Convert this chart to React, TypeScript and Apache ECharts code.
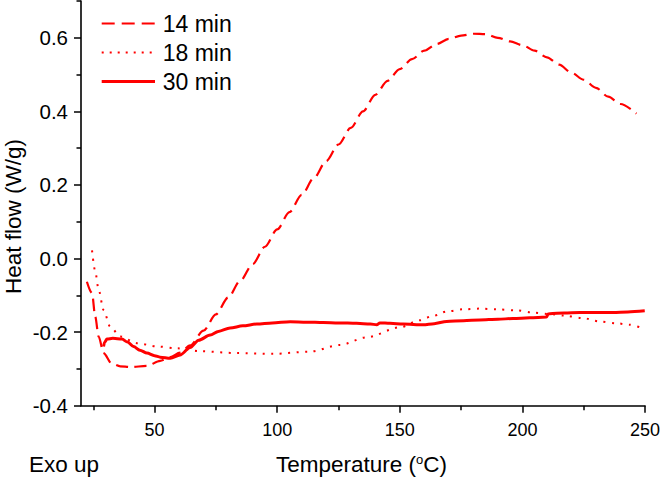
import React, { useEffect, useRef } from 'react';
import * as echarts from 'echarts';

// DSC heat-flow traces for three cure times
const seriesNames = ['14 min', '18 min', '30 min'];

const temp14 = [22.4, 24.5, 25.8, 27.2, 29.2, 32.6, 36, 40.1, 46.9, 52.3, 56.4, 60.4, 64.5, 70, 75, 80, 85, 90, 95, 100, 105, 110, 115, 120, 125, 130, 135, 140, 145, 150, 155, 160, 165, 170, 175, 180, 185, 190, 195, 200, 205, 210, 215, 220, 225, 230, 235, 240, 246.5];
const flow14 = [-0.063, -0.094, -0.158, -0.212, -0.257, -0.286, -0.293, -0.295, -0.292, -0.278, -0.268, -0.256, -0.236, -0.196, -0.152, -0.106, -0.06, -0.015, 0.032, 0.079, 0.126, 0.173, 0.219, 0.265, 0.31, 0.355, 0.4, 0.445, 0.483, 0.515, 0.542, 0.565, 0.583, 0.597, 0.606, 0.611, 0.61, 0.6, 0.59, 0.58, 0.565, 0.547, 0.527, 0.505, 0.486, 0.464, 0.44, 0.42, 0.394];

const temp18 = [24.5, 25.8, 27.2, 29.2, 31.9, 36, 42.8, 51, 59.1, 68.6, 83.5, 98.5, 113.4, 125.6, 136.5, 150.1, 158, 163.6, 169.1, 175.8, 182.6, 189.5, 197.6, 204.4, 211.2, 217, 224.7, 231.5, 238.3, 243.8, 247.9];
const flow18 = [0.022, -0.035, -0.085, -0.14, -0.185, -0.212, -0.23, -0.239, -0.244, -0.252, -0.257, -0.259, -0.253, -0.235, -0.214, -0.187, -0.168, -0.156, -0.144, -0.138, -0.136, -0.138, -0.141, -0.147, -0.151, -0.155, -0.162, -0.171, -0.176, -0.18, -0.187];

const temp30 = [29.2, 29.6, 30.6, 33, 36.7, 39, 41.4, 44, 46.9, 50, 52.3, 56.4, 60.4, 64.5, 68, 72.7, 76, 80.8, 86, 91.7, 98, 105.3, 112, 118.8, 125, 132.4, 138, 140.6, 141.9, 146, 151.4, 159.6, 164, 169.1, 176, 182.6, 190, 196.2, 203, 209.8, 210.5, 211.2, 217, 223.4, 230, 237, 243, 249.9];
const flow30 = [-0.239, -0.228, -0.219, -0.217, -0.219, -0.227, -0.239, -0.249, -0.257, -0.264, -0.268, -0.271, -0.262, -0.242, -0.222, -0.208, -0.198, -0.189, -0.183, -0.178, -0.175, -0.172, -0.173, -0.174, -0.175, -0.176, -0.178, -0.18, -0.175, -0.176, -0.178, -0.18, -0.177, -0.171, -0.169, -0.167, -0.165, -0.163, -0.161, -0.159, -0.151, -0.15, -0.148, -0.147, -0.147, -0.147, -0.145, -0.142];

const xMajorTicks = [50, 100, 150, 200, 250];
const xMinorTicks = [25, 75, 125, 175, 225];
const yMajorTicks = [-0.4, -0.2, 0, 0.2, 0.4, 0.6];
const yMinorTicks = [-0.3, -0.1, 0.1, 0.3, 0.5, 0.7];

const FONT = "'Liberation Sans', Arial, sans-serif";
const RED = '#ff0000';

const lineStyles = [
  { width: 2.2, type: [12, 6.5] as number[] },
  { width: 2, type: [2, 6.5] as number[] },
  { width: 3, type: 'solid' as const },
];

const pair = (xs: number[], ys: number[]) => xs.map((x, i) => [x, ys[i]]);

export default function App() {
  const ref = useRef<HTMLDivElement>(null);

  useEffect(() => {
    if (!ref.current) return;
    const chart = echarts.init(ref.current, undefined, { renderer: 'svg' });

    const tickStyle = { color: '#000', width: 1.5 };

    const legendItems: any[] = [];
    seriesNames.forEach((name, i) => {
      const y = 23.5 + i * 29;
      legendItems.push({
        type: 'line',
        shape: { x1: 101.7, y1: y, x2: 155, y2: y },
        style: {
          stroke: RED,
          lineWidth: i === 2 ? 3 : lineStyles[i].width,
          lineDash: i === 0 ? [13, 7] : i === 1 ? [2, 6] : null,
        },
      });
      legendItems.push({
        type: 'text',
        x: 162.7,
        y: y + 0.5,
        style: {
          text: name,
          font: `23px ${FONT}`,
          fill: '#000',
          textAlign: 'left',
          textVerticalAlign: 'middle',
        },
      });
    });

    chart.setOption({
      animation: false,
      grid: {
        left: 81,
        right: 16,
        top: 1,
        bottom: 75.3,
        containLabel: false,
        outerBoundsMode: 'none',
      },
      xAxis: [
        {
          type: 'value',
          min: 20,
          max: 250,
          splitLine: { show: false },
          axisLine: { onZero: false, lineStyle: { color: '#000', width: 1.6 } },
          axisTick: { customValues: xMajorTicks, length: 7, lineStyle: tickStyle },
          axisLabel: {
            customValues: xMajorTicks,
            margin: 15,
            color: '#000',
            fontSize: 18,
            fontFamily: FONT,
          },
        },
        {
          type: 'value',
          min: 20,
          max: 250,
          position: 'bottom',
          splitLine: { show: false },
          axisLine: { show: false, onZero: false },
          axisTick: { customValues: xMinorTicks, length: 4.5, lineStyle: tickStyle },
          axisLabel: { show: false },
        },
      ],
      yAxis: [
        {
          type: 'value',
          min: -0.4,
          max: 0.7,
          splitLine: { show: false },
          axisLine: { show: true, onZero: false, lineStyle: { color: '#000', width: 1.6 } },
          axisTick: { show: true, customValues: yMajorTicks, length: 7, lineStyle: tickStyle },
          axisLabel: {
            customValues: yMajorTicks,
            margin: 13,
            color: '#000',
            fontSize: 20.5,
            fontFamily: FONT,
            formatter: (v: number) => v.toFixed(1),
          },
        },
        {
          type: 'value',
          min: -0.4,
          max: 0.7,
          position: 'left',
          splitLine: { show: false },
          axisLine: { show: false, onZero: false },
          axisTick: { show: true, customValues: yMinorTicks, length: 4.5, lineStyle: tickStyle },
          axisLabel: { show: false },
        },
      ],
      series: [
        [temp14, flow14],
        [temp18, flow18],
        [temp30, flow30],
      ].map(([xs, ys], i) => ({
        name: seriesNames[i],
        type: 'line',
        xAxisIndex: 0,
        yAxisIndex: 0,
        data: pair(xs, ys),
        showSymbol: false,
        symbol: 'none',
        smooth: 0.3,
        smoothMonotone: 'x',
        lineStyle: {
          color: RED,
          width: lineStyles[i].width,
          type: lineStyles[i].type,
        },
        z: 3 - i,
      })),
      graphic: [
        ...legendItems,
        {
          type: 'text',
          x: 13,
          y: 216.5,
          rotation: Math.PI / 2,
          style: {
            text: 'Heat flow (W/g)',
            font: `22.5px ${FONT}`,
            fill: '#000',
            textAlign: 'center',
            textVerticalAlign: 'middle',
          },
        },
        {
          type: 'text',
          x: 29,
          y: 464,
          style: {
            text: 'Exo up',
            font: `22.5px ${FONT}`,
            fill: '#000',
            textAlign: 'left',
            textVerticalAlign: 'middle',
          },
        },
        {
          type: 'text',
          x: 276,
          y: 464,
          style: {
            text: 'Temperature ({sup|o}C)',
            font: `22.5px ${FONT}`,
            fill: '#000',
            textAlign: 'left',
            textVerticalAlign: 'middle',
            rich: {
              sup: {
                fontSize: 13,
                fontFamily: FONT,
                fill: '#000',
                verticalAlign: 'top',
                lineHeight: 22,
                padding: [0, 0, 9, 0],
              },
            },
          },
        },
      ],
    });

    return () => chart.dispose();
  }, []);

  return (
    <div
      ref={ref}
      style={{ position: 'fixed', left: 0, top: 0, width: 661, height: 481, background: '#fff' }}
    />
  );
}
